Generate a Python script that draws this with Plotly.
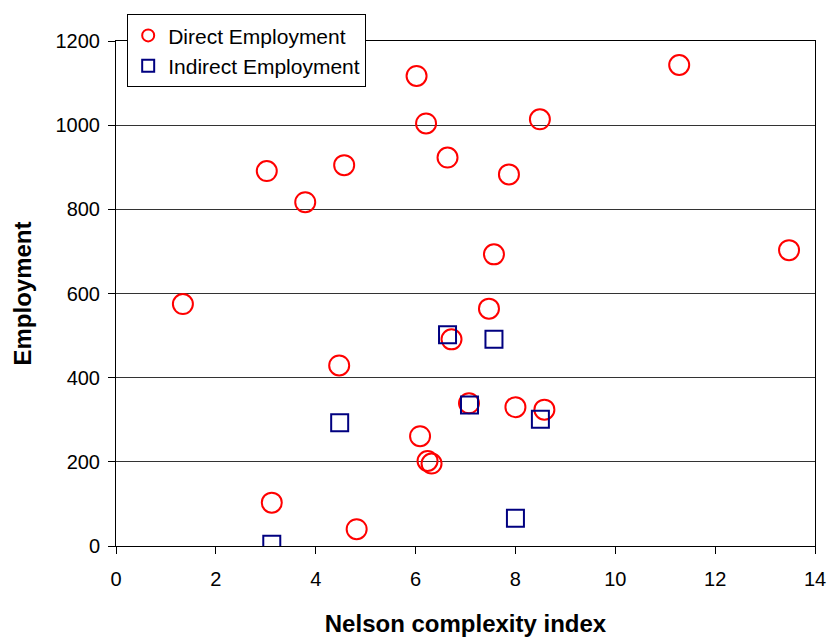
import plotly.graph_objects as go

direct_x = [1.34, 3.02, 3.12, 3.79, 4.57, 4.47, 4.82, 6.02, 6.21, 6.09, 6.24, 6.32,
            6.64, 6.72, 7.07, 7.47, 7.57, 7.87, 8.0, 8.49, 8.58, 11.28, 13.48]
direct_y = [575, 891, 103, 817, 905, 429, 40, 1117, 1004, 261, 202, 196,
            923, 491, 339, 564, 693, 883, 330, 1014, 324, 1143, 703]

indirect_x = [3.12, 4.48, 6.64, 7.08, 7.57, 8.0, 8.5]
indirect_y = [4, 293, 502, 335, 491, 66, 301]

x_ticks = [0, 2, 4, 6, 8, 10, 12, 14]
y_ticks = [0, 200, 400, 600, 800, 1000, 1200]

FONT = "Liberation Sans, Arial, sans-serif"

fig = go.Figure()
fig.add_trace(go.Scatter(
    x=direct_x, y=direct_y, mode="markers", name="Direct Employment",
    marker=dict(symbol="circle-open", size=20, color="#FF0000",
                line=dict(color="#FF0000", width=2)),
))
fig.add_trace(go.Scatter(
    x=indirect_x, y=indirect_y, mode="markers", name="Indirect Employment",
    marker=dict(symbol="square-open", size=17, color="#000080",
                line=dict(color="#000080", width=2)),
))

fig.update_layout(
    width=827, height=637,
    margin=dict(l=116, r=12, t=41, b=91, autoexpand=False),
    paper_bgcolor="white", plot_bgcolor="white",
    font=dict(family=FONT, size=20, color="black"),
    showlegend=True,
    legend=dict(
        x=0.016, y=1.053, xanchor="left", yanchor="top",
        bgcolor="white", bordercolor="black", borderwidth=1,
        font=dict(family=FONT, size=21, color="black"),
        itemsizing="constant", tracegroupgap=0,
    ),
    xaxis=dict(
        range=[0, 14], tickvals=x_ticks, ticktext=[str(v) for v in x_ticks],
        showgrid=False, zeroline=False, automargin=False,
        showline=True, linecolor="black", linewidth=1, mirror=True,
        ticks="outside", ticklen=7, tickcolor="black",
        tickfont=dict(family=FONT, size=20), ticklabelstandoff=8,
        ticklabeloverflow="allow",
        title=dict(text="<b>Nelson complexity index</b>", font=dict(family=FONT, size=24), standoff=26),
    ),
    yaxis=dict(
        range=[0, 1200], tickvals=y_ticks, ticktext=[str(v) for v in y_ticks],
        showgrid=True, gridcolor="#333333", gridwidth=1, zeroline=False, automargin=False,
        showline=True, linecolor="black", linewidth=1, mirror=True,
        ticks="outside", ticklen=7, tickcolor="black",
        tickfont=dict(family=FONT, size=20), ticklabelstandoff=4,
        title=dict(text="<b>Employment</b>", font=dict(family=FONT, size=24), standoff=17),
    ),
)

fig.write_html(
    "out.html",
    config={"displayModeBar": False},
    post_script="document.body.style.margin='0';document.body.style.overflow='hidden';",
)
